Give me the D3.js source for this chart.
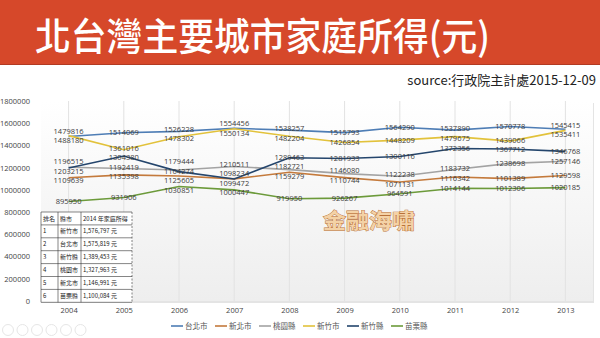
<!DOCTYPE html>
<html><head><meta charset="utf-8">
<script src="https://cdn.jsdelivr.net/npm/d3@7"></script>
<style>
html,body{margin:0;padding:0;background:#fff;}
svg{display:block;}
</style></head>
<body>
<svg id="chart" width="600" height="338"></svg>
<script>
// ---------- data ----------
const years = ["2004","2005","2006","2007","2008","2009","2010","2011","2012","2013"];
const seriesNames = ["台北市","新北市","桃園縣","新竹市","新竹縣","苗栗縣"];
const taipei    = [1479816,1514069,1526228,1554456,1538257,1515793,1564290,1537890,1570778,1545415];
const newTaipei = [1109639,1135398,1125605,1099472,1159279,1110744,1071131,1116342,1101389,1129598];
const taoyuan   = [1203215,1192419,1179444,1210511,1182721,1146080,1122238,1183732,1238698,1257146];
const hsinchuCity = [1488180,1361016,1478302,1550134,1482204,1426854,1448209,1479675,1439066,1535411];
const hsinchuCounty = [1196515,1304380,1164274,1098234,1289463,1281933,1300116,1372356,1367712,1346768];
const miaoli    = [895950,931906,1030851,1000447,919950,926267,964591,1014144,1012306,1020185];
const yTicks = [0,200000,400000,600000,800000,1000000,1200000,1400000,1600000,1800000];
const tableHeader = ["排名","縣市","2014 年家庭所得"];
const tableRank = ["1","2","3","4","5","6"];
const tableCity = ["新竹市","台北市","新竹縣","桃園市","新北市","苗栗縣"];
const tableIncome = ["1,576,797 元","1,575,819 元","1,389,453 元","1,327,963 元","1,146,991 元","1,100,084 元"];

const seriesValues = [taipei,newTaipei,taoyuan,hsinchuCity,hsinchuCounty,miaoli];
const colors = ["#4e7db5","#c47a3c","#a3a3a3","#e2c23b","#24456c","#6c9a3a"];
// label stacking priority when two points nearly coincide
const labelPriority = [0,4,3,1,2,5];

(function(){
const svg = d3.select("#chart");
const W = 600, H = 338;
const cjk = "'Noto Sans CJK TC','Noto Sans CJK SC',sans-serif";
const num = "'Open Sans','Noto Sans',sans-serif";

// title band
svg.append("rect").attr("x",0).attr("y",0).attr("width",W).attr("height",64).attr("fill","#d6482a");
svg.append("rect").attr("x",0).attr("y",64).attr("width",W).attr("height",1).attr("fill","#b23a22");
svg.append("text").attr("x",35).attr("y",50).attr("fill","#fff")
  .attr("font-family",cjk).attr("font-size",38).attr("font-weight",500)
  .attr("textLength",455).attr("lengthAdjust","spacingAndGlyphs")
  .text("北台灣主要城市家庭所得(元)");
svg.append("text").attr("x",596).attr("y",85).attr("text-anchor","end").attr("fill","#222")
  .attr("font-family",cjk).attr("font-size",13).text("source:行政院主計處2015-12-09");

// plot area
const pL = 41, pR = 593, pT = 101, pB = 301;
const defs = svg.append("defs");
const grad = defs.append("linearGradient").attr("id","bg").attr("x1",0).attr("y1",0).attr("x2",0).attr("y2",1);
grad.append("stop").attr("offset","0%").attr("stop-color","#ffffff");
grad.append("stop").attr("offset","100%").attr("stop-color","#eeeeee");
svg.append("rect").attr("x",pL+1).attr("y",pB-198).attr("width",pR-pL).attr("height",200).attr("fill","#e4e4e4");
svg.append("rect").attr("x",pL).attr("y",pT).attr("width",pR-pL).attr("height",pB-pT).attr("fill","url(#bg)");

const x = d3.scalePoint().domain(years).range([pL,pR]).padding(0.5);
const y = d3.scaleLinear().domain([0,1800000]).range([pB,pT]);

// vertical gridlines
svg.append("g").selectAll("line").data(years).join("line")
  .attr("x1",d=>x(d)).attr("x2",d=>x(d)).attr("y1",pT).attr("y2",pB)
  .attr("stroke","#e2e2e2").attr("stroke-width",1);

// axes
const yAxis = svg.append("g").attr("transform",`translate(${pL-8},0)`)
  .call(d3.axisLeft(y).tickValues(yTicks).tickFormat(d3.format("d")).tickSize(0));
yAxis.select(".domain").remove();
yAxis.selectAll("text").attr("font-family",num).attr("font-size",7.5).attr("fill","#444").attr("dx",0);

const xAxis = svg.append("g").attr("transform",`translate(0,${pB+4})`)
  .call(d3.axisBottom(x).tickSize(0));
xAxis.select(".domain").remove();
xAxis.selectAll("text").attr("font-family",num).attr("font-size",7.5).attr("fill","#444");

// lines
const line = d3.line().x((d,i)=>x(years[i])).y(d=>y(d));
svg.append("g").selectAll("path").data(seriesValues).join("path")
  .attr("d",d=>line(d)).attr("fill","none")
  .attr("stroke",(d,i)=>colors[i]).attr("stroke-width",1.6);

// data labels with simple collision avoidance per year
const gap = 9.5;
const labels = [];
years.forEach((yr,j)=>{
  const items = seriesValues.map((s,i)=>({v:s[j], py:y(s[j]), x:x(yr), i}))
    .sort((a,b)=>{
      if(Math.abs(a.py-b.py) < 1.5) return labelPriority.indexOf(a.i)-labelPriority.indexOf(b.i);
      return a.py-b.py;
    });
  let clusters = items.map(d=>({m:[d], t:d.py}));
  let changed = true;
  while(changed){
    changed = false;
    for(let k=0;k<clusters.length-1;k++){
      const a = clusters[k], b = clusters[k+1];
      if(a.t + a.m.length*gap > b.t){
        const m = a.m.concat(b.m);
        const t = d3.mean(m,(d,q)=>d.py - q*gap);
        clusters.splice(k,2,{m, t});
        changed = true; break;
      }
    }
  }
  clusters.forEach(c=>c.m.forEach((d,q)=>{ d.ly = c.t + q*gap; labels.push(d); }));
});
svg.append("g").selectAll("text").data(labels).join("text")
  .attr("x",d=>d.x).attr("y",d=>d.ly).attr("dy","0.35em").attr("text-anchor","middle")
  .attr("font-family",num).attr("font-size",7.5).attr("fill","#3a3a3a")
  .text(d=>d.v);

// watermark
svg.append("text").attr("x",369).attr("y",228).attr("text-anchor","middle")
  .attr("font-family",cjk).attr("font-size",21).attr("font-weight",700)
  .attr("textLength",92).attr("lengthAdjust","spacingAndGlyphs")
  .attr("fill","#f4d2a6").attr("stroke","#b8713a").attr("stroke-width",0.9)
  .attr("paint-order","stroke")
  .text("金融海嘯");

// table overlay
const tx = 41, ty = 212, colX = [41,58,81,132], rowH = 12.9;
const tbl = svg.append("g");
tbl.append("rect").attr("x",tx).attr("y",ty).attr("width",colX[3]-tx).attr("height",rowH*7).attr("fill","#fff");
const rows = [tableHeader].concat(tableRank.map((r,i)=>[r,tableCity[i],tableIncome[i]]));
rows.forEach((r,ri)=>{
  r.forEach((c,ci)=>{
    tbl.append("text").attr("x",colX[ci]+2).attr("y",ty+rowH*ri+rowH/2).attr("dy","0.35em")
      .attr("font-family",cjk).attr("font-size",6).attr("fill","#222").text(c);
  });
});
for(let k=0;k<=7;k++){
  tbl.append("line").attr("x1",tx).attr("x2",colX[3]).attr("y1",ty+rowH*k).attr("y2",ty+rowH*k)
    .attr("stroke","#333").attr("stroke-width",0.6);
}
colX.forEach((cx,k)=>{
  tbl.append("line").attr("x1",cx).attr("x2",cx).attr("y1",ty).attr("y2",ty+rowH*7)
    .attr("stroke","#333").attr("stroke-width",0.6).attr("stroke-dasharray",k===3?"2,1.5":null);
});

// legend
const legend = svg.append("g");
const itemW = 44;
const lx0 = 300 - itemW*seriesNames.length/2 + 3;
seriesNames.forEach((n,i)=>{
  const g = legend.append("g").attr("transform",`translate(${lx0+i*itemW},326)`);
  g.append("line").attr("x1",0).attr("x2",12).attr("y1",0).attr("y2",0).attr("stroke",colors[i]).attr("stroke-width",1.6);
  g.append("text").attr("x",14).attr("y",0).attr("dy","0.35em").attr("font-family",cjk)
    .attr("font-size",7.5).attr("fill","#555").text(n);
});

// faint presentation controls bottom-left
const icons = svg.append("g");
d3.range(6).forEach(k=>{
  icons.append("circle").attr("cx",8+k*14.5).attr("cy",330).attr("r",5.5)
    .attr("fill","none").attr("stroke","#e6e6e6").attr("stroke-width",1);
});
})();
</script>
</body></html>
